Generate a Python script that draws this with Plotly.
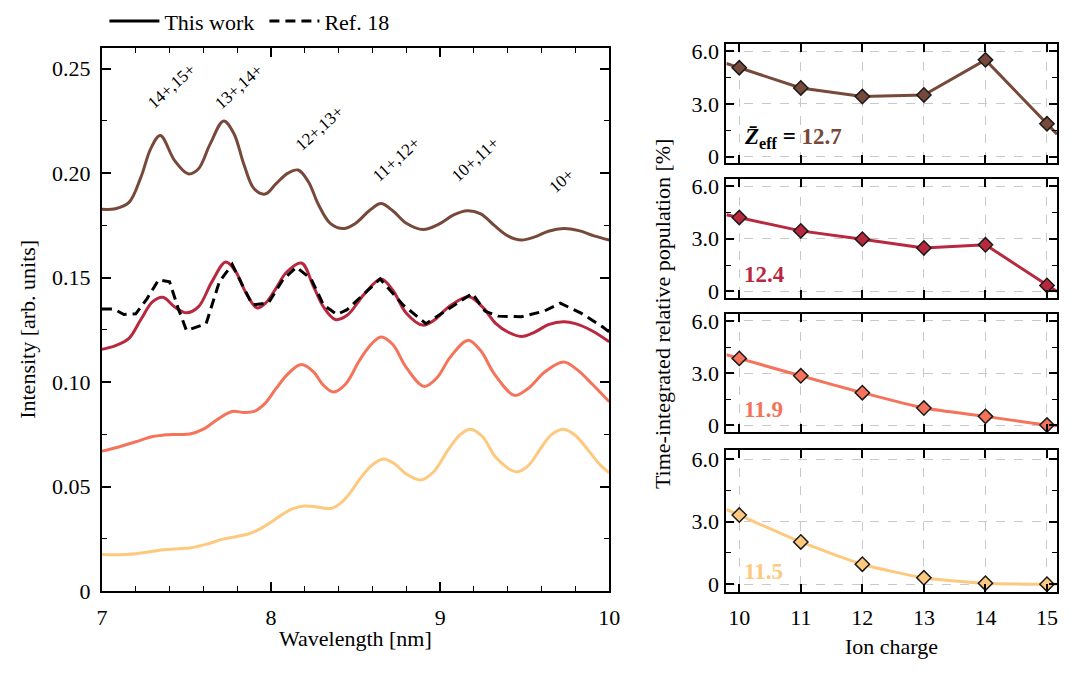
import plotly.graph_objects as go

# ---------------- data: spectra (left panel) ----------------
wl_127 = [7.00, 7.08, 7.16, 7.23, 7.29, 7.345, 7.43, 7.51, 7.57, 7.64, 7.72, 7.78, 7.84, 7.90,
          7.965, 8.03, 8.10, 8.16, 8.22, 8.28, 8.35, 8.43, 8.50, 8.58, 8.65, 8.72, 8.80, 8.90,
          8.99, 9.08, 9.16, 9.24, 9.32, 9.40, 9.48, 9.56, 9.64, 9.73, 9.82, 9.91, 10.0]
int_127 = [0.1827, 0.1830, 0.1860, 0.1980, 0.2120, 0.2180, 0.2060, 0.1997, 0.2020, 0.2140,
           0.2250, 0.2190, 0.2040, 0.1925, 0.1900, 0.1950, 0.2000, 0.2015, 0.1960, 0.1850,
           0.1760, 0.1735, 0.1760, 0.1820, 0.1855, 0.1820, 0.1760, 0.1730, 0.1755, 0.1800,
           0.1820, 0.1805, 0.1750, 0.1700, 0.1680, 0.1695, 0.1722, 0.1735, 0.1725, 0.1700,
           0.1680]

wl_124 = [7.00, 7.08, 7.16, 7.23, 7.30, 7.36, 7.43, 7.50, 7.57, 7.65, 7.732, 7.79, 7.85,
          7.917, 7.97, 8.03, 8.09, 8.18, 8.25, 8.31, 8.38, 8.45, 8.55, 8.65, 8.72, 8.80,
          8.897, 8.97, 9.05, 9.17, 9.25, 9.33, 9.40, 9.48, 9.56, 9.64, 9.73, 9.80, 9.90, 10.0]
int_124 = [0.1157, 0.1175, 0.1210, 0.1300, 0.1385, 0.1406, 0.1360, 0.1332, 0.1360, 0.1480,
           0.1575, 0.1530, 0.1430, 0.1355, 0.1380, 0.1450, 0.1525, 0.1570, 0.1460, 0.1360,
           0.1300, 0.1320, 0.1420, 0.1494, 0.1440, 0.1330, 0.1273, 0.1300, 0.1360, 0.1409,
           0.1360, 0.1280, 0.1240, 0.1219, 0.1240, 0.1275, 0.1289, 0.1280, 0.1245, 0.1193]

wl_119 = [7.00, 7.10, 7.20, 7.30, 7.364, 7.44, 7.52, 7.60, 7.68, 7.77, 7.84, 7.90, 7.96,
          8.03, 8.10, 8.18, 8.25, 8.31, 8.37, 8.44, 8.52, 8.58, 8.65, 8.72, 8.80, 8.906,
          8.98, 9.06, 9.164, 9.24, 9.32, 9.44, 9.52, 9.62, 9.73, 9.81, 9.90, 10.0]
int_119 = [0.0670, 0.0690, 0.0715, 0.0740, 0.0747, 0.0750, 0.0752, 0.0775, 0.0820, 0.0860,
           0.0855, 0.0860, 0.0895, 0.0970, 0.1040, 0.1084, 0.1050, 0.0985, 0.0953, 0.0990,
           0.1100, 0.1170, 0.1216, 0.1180, 0.1070, 0.0980, 0.1020, 0.1120, 0.1200, 0.1150,
           0.1040, 0.0937, 0.0970, 0.1050, 0.1097, 0.1060, 0.0990, 0.0906]

wl_115 = [7.00, 7.13, 7.25, 7.364, 7.45, 7.52, 7.62, 7.713, 7.80, 7.87, 7.946, 8.00, 8.062,
          8.13, 8.198, 8.27, 8.353, 8.41, 8.47, 8.53, 8.60, 8.664, 8.73, 8.80, 8.887, 8.96,
          9.05, 9.12, 9.178, 9.25, 9.33, 9.45, 9.52, 9.60, 9.66, 9.73, 9.80, 9.88, 9.94, 10.0]
int_115 = [0.0175, 0.0175, 0.0185, 0.0198, 0.0203, 0.0207, 0.0225, 0.0249, 0.0262, 0.0275,
           0.0303, 0.0330, 0.0365, 0.0395, 0.0407, 0.0403, 0.0396, 0.0420, 0.0473, 0.0543,
           0.0605, 0.0633, 0.0610, 0.0560, 0.0532, 0.0570, 0.0680, 0.0750, 0.0775, 0.0740,
           0.0640, 0.0571, 0.0600, 0.0690, 0.0750, 0.0775, 0.0745, 0.0670, 0.0610, 0.0566]

wl_ref = [7.00, 7.07, 7.13, 7.20, 7.267, 7.335, 7.40, 7.45, 7.50, 7.616, 7.694, 7.77, 7.84, 7.89,
          7.985, 8.07, 8.15, 8.237, 8.31, 8.39, 8.45, 8.55, 8.645, 8.78, 8.916, 9.03, 9.19,
          9.265, 9.343, 9.48, 9.615, 9.71, 9.83, 9.96, 10.0]
int_ref = [0.135, 0.135, 0.1324, 0.1327, 0.140, 0.149, 0.148, 0.1355, 0.1247, 0.128, 0.148,
           0.1564, 0.1448, 0.137, 0.138, 0.149, 0.155, 0.1494, 0.137, 0.1324, 0.1347, 0.142,
           0.1494, 0.137, 0.128, 0.134, 0.1425, 0.134, 0.1316, 0.1313, 0.134, 0.1378, 0.1332,
           0.1265, 0.124]

peak_labels = ["14+,15+", "13+,14+", "12+,13+", "11+,12+", "10+,11+", "10+"]
peak_x = [7.41, 7.81, 8.285, 8.74, 9.207, 9.72]
peak_y = [0.2415, 0.2415, 0.2213, 0.2066, 0.2066, 0.1966]

# ---------------- data: populations (right panels) ----------------
charges = [10, 11, 12, 13, 14, 15]
pop_127 = [5.06, 3.91, 3.42, 3.51, 5.51, 1.87]
pop_124 = [4.21, 3.45, 2.98, 2.48, 2.66, 0.34]
pop_119 = [3.85, 2.85, 1.88, 1.00, 0.52, 0.02]
pop_115 = [3.32, 2.03, 0.96, 0.31, 0.05, 0.00]
zeff_vals = ["12.7", "12.4", "11.9", "11.5"]

colors = ["#77493b", "#b8283e", "#f5735a", "#fec97e"]

FONT = "Liberation Serif"
W, H = 1070, 676

def px_x(p):
    return min(max(p / W, 0.0), 1.0)

def px_y(p):
    return 1 - p / H

fig = go.Figure()

spectra = [(wl_127, int_127), (wl_124, int_124), (wl_119, int_119), (wl_115, int_115)]
for (wx, wy), c in zip(spectra, colors):
    fig.add_trace(go.Scatter(x=wx, y=wy, mode="lines", line=dict(color=c, width=3, shape="spline", smoothing=1.0),
                             showlegend=False, hoverinfo="skip", xaxis="x", yaxis="y"))
fig.add_trace(go.Scatter(x=wl_ref, y=int_ref, mode="lines", line=dict(color="black", width=3, dash="10px,6px"),
                         showlegend=False, hoverinfo="skip", xaxis="x", yaxis="y"))

fig.add_trace(go.Scatter(x=[None], y=[None], mode="lines", line=dict(color="black", width=3),
                         name="This work", xaxis="x", yaxis="y"))
fig.add_trace(go.Scatter(x=[None], y=[None], mode="lines", line=dict(color="black", width=3, dash="10px,6px"),
                         name="Ref. 18", xaxis="x", yaxis="y"))

# right panel x scale: charge 10 at 745.1 px, 62.54 px per unit
X10_PX, PX_PER_Q = 745.1, 62.54
R_LEFT_PX, R_RIGHT_PX = 732, 1068
XR = [10 + (R_LEFT_PX - X10_PX) / PX_PER_Q, 10 + (R_RIGHT_PX - X10_PX) / PX_PER_Q]

pops = [pop_127, pop_124, pop_119, pop_115]
for i, (p, c) in enumerate(zip(pops, colors)):
    ax = str(i + 2)
    sl = (p[1] - p[0]) / (charges[1] - charges[0])
    sr = (p[-1] - p[-2]) / (charges[-1] - charges[-2])
    lx = [XR[0]] + charges + [XR[1]]
    ly = [p[0] + sl * (XR[0] - charges[0])] + p + [max(p[-1] + sr * (XR[1] - charges[-1]), 0.0)]
    shape = "linear" if i < 2 else "spline"
    fig.add_trace(go.Scatter(x=lx, y=ly, mode="lines", line=dict(color=c, width=3, shape=shape, smoothing=0.6),
                             showlegend=False, hoverinfo="skip", xaxis="x" + ax, yaxis="y" + ax))
    fig.add_trace(go.Scatter(x=charges, y=p, mode="markers",
                             marker=dict(symbol="diamond", size=11, color=c, line=dict(color="#1a1a1a", width=1.5)),
                             showlegend=False, hoverinfo="skip", xaxis="x" + ax, yaxis="y" + ax, cliponaxis=False))

tickfont = dict(family=FONT, size=22, color="black")

layout = dict(
    width=W, height=H, margin=dict(l=0, r=0, t=0, b=0),
    paper_bgcolor="white", plot_bgcolor="white",
    font=dict(family=FONT, size=22, color="black"),
    showlegend=True,
    legend=dict(orientation="h", x=px_x(100), y=px_y(-7), xanchor="left", yanchor="top",
                font=dict(family=FONT, size=22), itemwidth=50, bgcolor="rgba(0,0,0,0)",
                entrywidth=95, entrywidthmode="pixels"),
    xaxis=dict(domain=[px_x(97.5), px_x(613)], range=[7, 10], tickvals=[7, 8, 9, 10],
               ticks="inside", ticklen=9, tickwidth=1.5, tickcolor="black",
               minor=dict(dtick=0.2, tick0=7, ticks="inside", ticklen=5, tickwidth=1.2, tickcolor="black"),
               showline=True, linewidth=2, linecolor="black", mirror="allticks",
               showgrid=False, zeroline=False, tickfont=tickfont, ticklabelstandoff=5,
               anchor="y"),
    yaxis=dict(domain=[px_y(602), px_y(42)], range=[0, 0.26],
               tickvals=[0, 0.05, 0.10, 0.15, 0.20, 0.25],
               ticktext=["0", "0.05", "0.10", "0.15", "0.20", "0.25"],
               ticks="inside", ticklen=9, tickwidth=1.5, tickcolor="black",
               minor=dict(dtick=0.025, tick0=0, ticks="inside", ticklen=5, tickwidth=1.2, tickcolor="black"),
               showline=True, linewidth=2, linecolor="black", mirror="allticks",
               showgrid=False, zeroline=False, tickfont=tickfont, ticklabelstandoff=5,
               anchor="x"),
)

panel_px = [(38, 161), (177, 300), (316, 438), (457, 603)]
for i, (top, bot) in enumerate(panel_px):
    ax = str(i + 2)
    layout["xaxis" + ax] = dict(
        domain=[px_x(R_LEFT_PX), px_x(R_RIGHT_PX)], range=XR, tickvals=charges,
        ticks="inside", ticklen=8, tickwidth=1.5, tickcolor="black",
        showline=True, linewidth=2, linecolor="black", mirror="allticks",
        showgrid=True, gridcolor="#c9c9c9", gridwidth=1, griddash="dash", zeroline=False,
        showticklabels=(i == 3), tickfont=tickfont, ticklabelstandoff=4,
        anchor="y" + ax)
    layout["yaxis" + ax] = dict(
        domain=[px_y(bot), px_y(top)], range=[-0.38, 6.42], tickvals=[0, 3, 6],
        ticktext=["0", "3.0", "6.0"],
        ticks="inside", ticklen=8, tickwidth=1.5, tickcolor="black",
        minor=dict(dtick=1.5, tick0=0, ticks="inside", ticklen=5, tickwidth=1.2, tickcolor="black", showgrid=False),
        showline=True, linewidth=2, linecolor="black", mirror="allticks",
        showgrid=True, gridcolor="#c9c9c9", gridwidth=1, griddash="dash", zeroline=False,
        tickfont=tickfont, ticklabelstandoff=1,
        anchor="x" + ax)

fig.update_layout(**layout)

ann = []
for t, x, y in zip(peak_labels, peak_x, peak_y):
    ann.append(dict(x=x, y=y, xref="x", yref="y", text=t, showarrow=False, textangle=-42,
                    font=dict(family=FONT, size=17, color="black"), xanchor="center", yanchor="middle"))
ann.append(dict(x=px_x(355), y=px_y(651), xref="paper", yref="paper", text="Wavelength [nm]",
                showarrow=False, font=dict(family=FONT, size=22), xanchor="center", yanchor="middle"))
ann.append(dict(x=px_x(22), y=px_y(332), xref="paper", yref="paper", text="Intensity [arb. units]",
                showarrow=False, textangle=-90, font=dict(family=FONT, size=22), xanchor="center", yanchor="middle"))
ann.append(dict(x=px_x(900), y=px_y(659), xref="paper", yref="paper", text="Ion charge",
                showarrow=False, font=dict(family=FONT, size=22), xanchor="center", yanchor="middle"))
ann.append(dict(x=px_x(667), y=px_y(316), xref="paper", yref="paper",
                text="Time-integrated relative population [%]",
                showarrow=False, textangle=-90, font=dict(family=FONT, size=22), xanchor="center", yanchor="middle"))
z_y = [135, 276, 415, 582]
for i, (zv, c, yy) in enumerate(zip(zeff_vals, colors, z_y)):
    if i == 0:
        txt = ("<b><i>Z\u0304</i><sub>eff</sub> = </b>"
               f"<b><span style='color:{c}'>{zv}</span></b>")
        fc = "black"
    else:
        txt = f"<b>{zv}</b>"
        fc = c
    ann.append(dict(x=px_x(748), y=px_y(yy), xref="paper", yref="paper", text=txt, showarrow=False,
                    font=dict(family=FONT, size=23, color=fc), xanchor="left", yanchor="middle"))

fig.update_layout(annotations=ann)

fig.write_html("out.html")
